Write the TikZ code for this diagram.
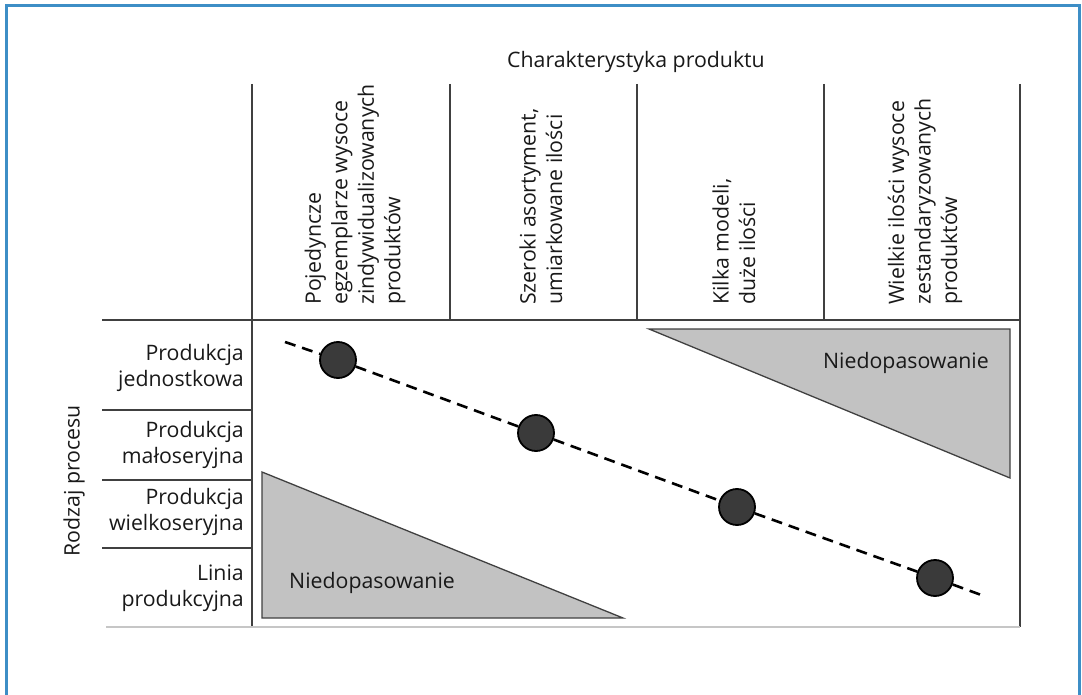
\documentclass[tikz,border=0pt]{standalone}
\usepackage{fontspec}
\setmainfont{Open Sans}
\definecolor{frameblue}{HTML}{3D8EC6}
\definecolor{gridc}{HTML}{404040}
\definecolor{trifill}{HTML}{C2C2C2}
\definecolor{dotfill}{HTML}{3A3A3A}
\tikzset{
  gridline/.style={draw=gridc, line width=1.6pt},
  lbl/.style={font=\fontsize{21.3}{26.5}\selectfont, text=black!90, inner sep=0pt},
  rowlbl/.style={lbl, align=right, anchor=east},
  collbl/.style={lbl, align=left, rotate=90, anchor=west},
  tri/.style={draw=gridc, line width=1.3pt, fill=trifill},
  dot/.style={circle, draw=black, line width=1.8pt, fill=dotfill, minimum size=36pt, inner sep=0pt},
  diag/.style={draw=black, line width=2.6pt, dash pattern=on 11pt off 7pt}
}
\begin{document}
\begin{tikzpicture}[x=1pt,y=-1pt]
\useasboundingbox (0,0) rectangle (1082,695);
% frame
\draw[frameblue, line width=3pt] (6,700) -- (6,6) -- (1079,6) -- (1079,700);
% grid
\draw[gridline] (252,84) -- (252,627);
\draw[gridline] (450,84) -- (450,320);
\draw[gridline] (637,84) -- (637,320);
\draw[gridline] (824,84) -- (824,320);
\draw[draw=gridc, line width=2.6pt] (1020,84) -- (1020,627);
\draw[gridline] (102,320) -- (1020,320);
\draw[gridline] (102,410) -- (252,410);
\draw[gridline] (102,480) -- (252,480);
\draw[gridline] (102,548) -- (252,548);
\draw[draw=gray!45, line width=1.6pt] (106,627) -- (1020,627);
% titles
\node[lbl] (title) at (636,62) {Charakterystyka produktu};
\node[lbl, rotate=90] (rodzaj) at (74,481) {Rodzaj procesu};
% column labels
\node[collbl] (k1) at (355,305) {Pojedyncze\\egzemplarze wysoce\\zindywidualizowanych\\produktów};
\node[collbl] (k2) at (541,305) {Szeroki asortyment,\\umiarkowane ilości};
\node[collbl] (k3) at (734,305) {Kilka modeli,\\duże ilości};
\node[collbl] (k4) at (925,305) {Wielkie ilości wysoce\\zestandaryzowanych\\produktów};
% row labels
\node[rowlbl] (w1) at (244,368) {Produkcja\\jednostkowa};
\node[rowlbl] (w2) at (244,445) {Produkcja\\małoseryjna};
\node[rowlbl] (w3) at (244,512) {Produkcja\\wielkoseryjna};
\node[rowlbl] (w4) at (244,588) {Linia\\produkcyjna};
% triangles
\draw[tri] (649,329) -- (1010,329) -- (1010,478) -- cycle;
\draw[tri] (262,472) -- (262,618) -- (623,618) -- cycle;
\node[lbl, anchor=east] (n1) at (989,363) {Niedopasowanie};
\node[lbl, anchor=west] (n2) at (289,583) {Niedopasowanie};
% dashed diagonal with dots
\coordinate (ds) at (285,342);
\coordinate (de) at (984,596);
\node[dot] (c1) at (338,360) {};
\node[dot] (c2) at (536,433) {};
\node[dot] (c3) at (737,507) {};
\node[dot] (c4) at (935,578) {};
\draw[diag] (ds) -- (c1);
\draw[diag] (c1) -- (c2);
\draw[diag] (c2) -- (c3);
\draw[diag] (c3) -- (c4);
\draw[diag] (c4) -- (de);
\end{tikzpicture}
\end{document}
